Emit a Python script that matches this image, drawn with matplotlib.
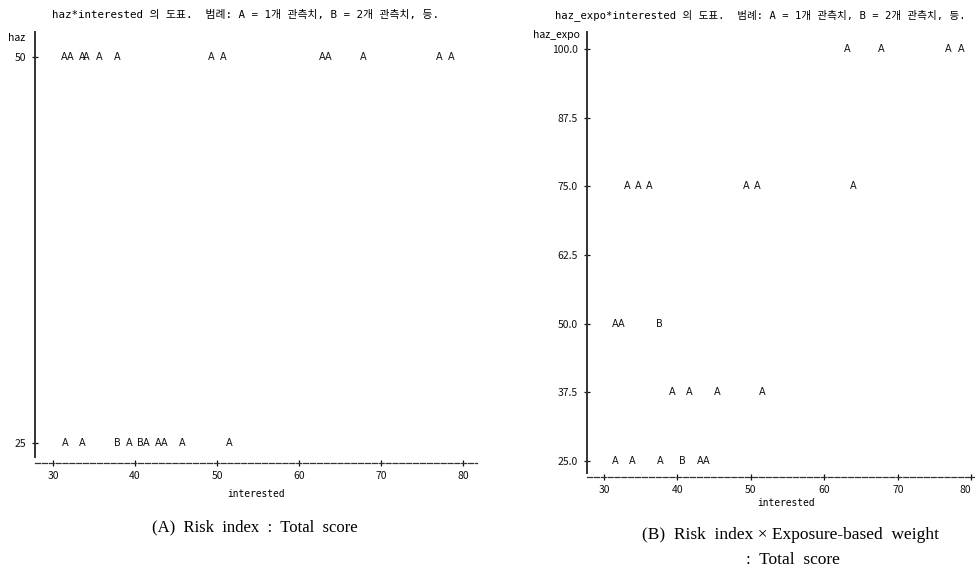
import matplotlib
matplotlib.use("Agg")
import matplotlib.pyplot as plt

plt.rcParams['font.family'] = ['Noto Sans CJK KR', 'DejaVu Sans']
MONO = ['DejaVu Sans Mono', 'Noto Sans CJK KR']

# (A) haz vs interested
a_x = [31.4, 32.1, 33.5, 34.1, 35.6, 37.8, 49.3, 50.7, 62.8, 63.5, 67.8, 77.1, 78.5,
       31.5, 33.5, 37.8, 39.3, 40.6, 41.4, 42.8, 43.5, 45.7, 51.5]
a_y = [50] * 13 + [25] * 10
a_n = [1] * 13 + [1, 1, 2, 1, 2, 1, 1, 1, 1, 1]
a_yticks = [25, 50]
a_ylabels = ["25", "50"]

# (B) haz_expo vs interested
b_x = [63.1, 67.7, 76.9, 78.6,
       33.1, 34.6, 36.1, 49.3, 50.8, 63.9,
       31.6, 32.4, 37.6,
       39.3, 41.6, 45.4, 51.5,
       31.5, 33.8, 37.6, 40.7, 43.1, 43.9]
b_y = [100] * 4 + [75] * 6 + [50] * 3 + [37.5] * 4 + [25] * 6
b_n = [1] * 4 + [1] * 6 + [1, 1, 2] + [1] * 4 + [1, 1, 1, 2, 1, 1]
b_yticks = [25.0, 37.5, 50.0, 62.5, 75.0, 87.5, 100.0]
b_ylabels = ["25.0", "37.5", "50.0", "62.5", "75.0", "87.5", "100.0"]

xticks = [30, 40, 50, 60, 70, 80]

W, H = 975, 568
fig = plt.figure(figsize=(W / 100, H / 100), dpi=100)


def fx(px):
    return px / W


def fy(py):
    return 1 - py / H


def style(ax, x, y, n, yticks, ylabels, ylo):
    for xi, yi, ni in zip(x, y, n):
        ax.text(xi, yi, chr(ord('A') + ni - 1), ha='center', va='center',
                fontsize=7, family='DejaVu Sans', color='#111', clip_on=False)
    for s in ['top', 'right']:
        ax.spines[s].set_visible(False)
    ax.spines['left'].set_linewidth(1.4)
    ax.spines['left'].set_color('#333')
    ax.spines['left'].set_bounds(ylo, ax.get_ylim()[1])
    ax.spines['bottom'].set_linestyle((0, (4, 1.5)))
    ax.spines['bottom'].set_linewidth(0.9)
    ax.spines['bottom'].set_color('#333')
    ax.set_yticks(yticks)
    ax.set_yticklabels(ylabels)
    ax.set_xticks(xticks)
    ax.tick_params(axis='y', direction='inout', length=5, width=0.9,
                   labelsize=7.5, pad=4, colors='#111')
    ax.tick_params(axis='x', direction='inout', length=5, width=0.9,
                   labelsize=7.5, pad=3, colors='#111')
    ax.patch.set_visible(False)


# left panel
axA = fig.add_axes([fx(35), fy(463), fx(477) - fx(35), fy(32) - fy(463)])
axA.set_xlim(27.8, 81.7)
axA.set_ylim(23.7, 51.6)
style(axA, a_x, a_y, a_n, a_yticks, a_ylabels, 24.1)

# right panel
axB = fig.add_axes([fx(587), fy(477), fx(975) - fx(587), fy(32) - fy(477)])
axB.set_xlim(27.69, 80.5)
axB.set_ylim(22.09, 103.1)
style(axB, b_x, b_y, b_n, b_yticks, b_ylabels, 22.8)
axB.get_xticklabels()[-1].set_horizontalalignment('right')
axB.get_xticklabels()[-1].set_x(80.3)

# titles and labels
fig.text(fx(245), fy(15), "haz*interested 의 도표.  범례: A = 1개 관측치, B = 2개 관측치, 등.",
         ha='center', va='center', fontsize=7.8, family=MONO)
fig.text(fx(760), fy(15), "haz_expo*interested 의 도표.  범례: A = 1개 관측치, B = 2개 관측치, 등.",
         ha='center', va='center', fontsize=7.6, family=MONO)
fig.text(fx(17), fy(38), "haz", ha='center', va='center', fontsize=7.5)
fig.text(fx(556), fy(35), "haz_expo", ha='center', va='center', fontsize=7.5)
fig.text(fx(256), fy(494), "interested", ha='center', va='center', fontsize=6.9, family=MONO)
fig.text(fx(786), fy(503), "interested", ha='center', va='center', fontsize=6.9, family=MONO)

fig.text(fx(255), fy(527), "(A)  Risk  index  :  Total  score", ha='center', va='center',
         fontsize=12, family='Liberation Serif')
fig.text(fx(790), fy(535), "(B)  Risk  index \u00d7 Exposure-based  weight", ha='center',
         va='center', fontsize=12.5, family='Liberation Serif')
fig.text(fx(793), fy(560), ":  Total  score", ha='center', va='center',
         fontsize=12.5, family='Liberation Serif')

fig.savefig("out.png", dpi=100)
